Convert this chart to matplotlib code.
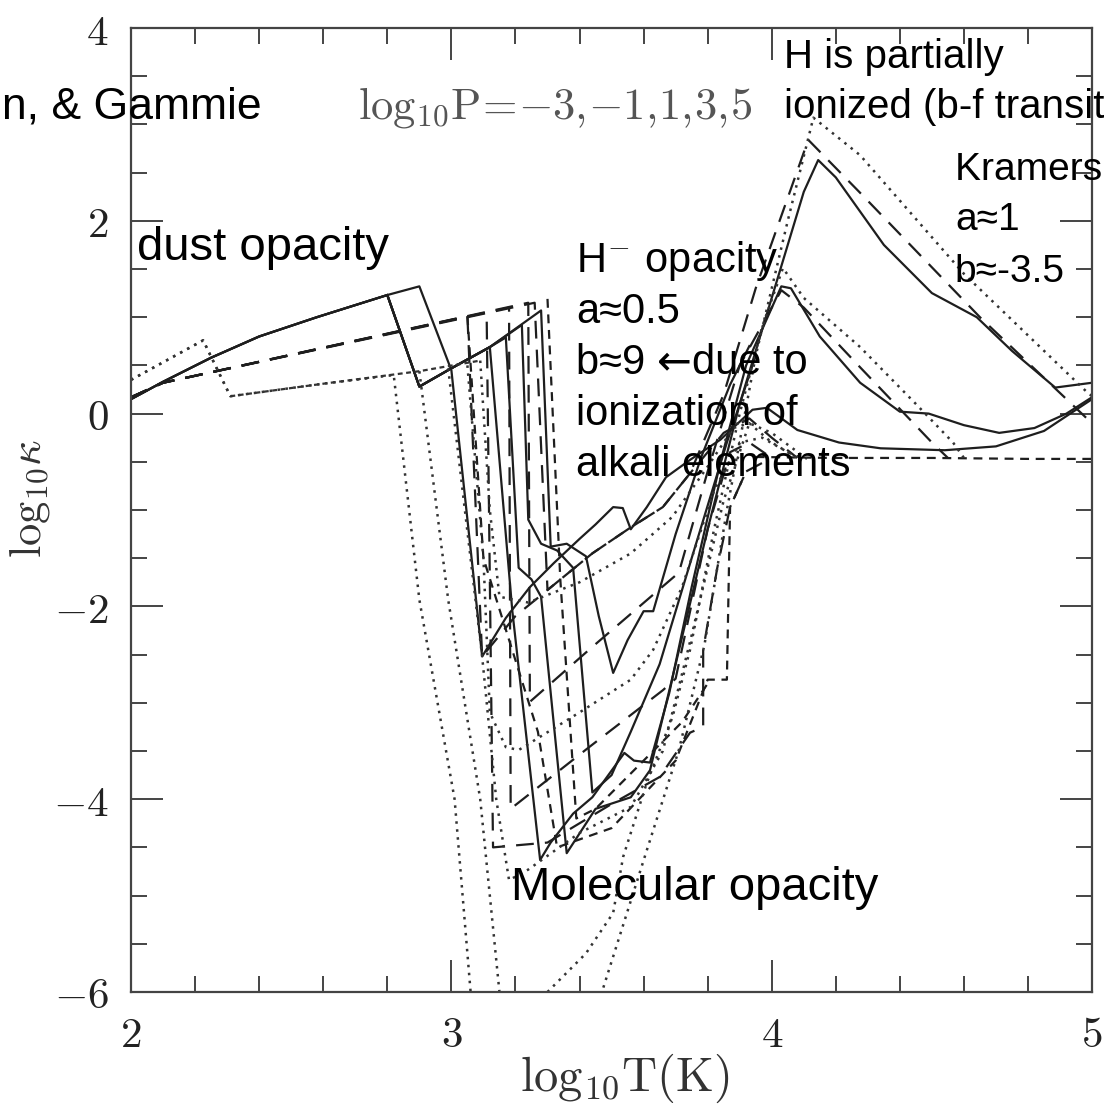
import numpy as np
import matplotlib.pyplot as plt

plt.rcParams['mathtext.fontset'] = 'cm'

# ---- solid curves (log10 T, log10 kappa) ----
s1_T = [2.00, 2.10, 2.25, 2.40, 2.58, 2.80, 2.90, 3.00, 3.096, 3.17, 3.245, 3.32, 3.40, 3.45, 3.505, 3.535,
        3.56, 3.61, 3.67, 3.745, 3.84, 3.94, 3.985, 4.08, 4.21, 4.34, 4.54, 4.70, 4.85, 5.00]
s1_k = [0.15, 0.33, 0.58, 0.80, 1.00, 1.23, 1.32, 0.45, -2.52, -2.12, -1.80, -1.55, -1.30, -1.15, -0.97, -0.98,
        -1.20, -0.97, -0.66, -0.48, -0.27, 0.04, 0.06, -0.17, -0.30, -0.36, -0.38, -0.34, -0.18, 0.15]

s2_T = [2.00, 2.10, 2.25, 2.40, 2.58, 2.80, 2.90, 3.00, 3.12, 3.19, 3.277, 3.31, 3.38, 3.44, 3.54, 3.57, 3.62,
        3.68, 3.75, 3.84, 3.92, 4.03, 4.06, 4.15, 4.276, 4.40, 4.49, 4.60, 4.71, 4.82, 4.92, 5.00]
s2_k = [0.15, 0.33, 0.58, 0.80, 1.00, 1.23, 0.28, 0.47, 0.69, -2.04, -4.63, -4.45, -4.15, -3.98, -3.52, -3.60, -3.62,
        -2.90, -1.80, -0.50, 0.50, 1.32, 1.30, 0.80, 0.32, 0.02, 0.00, -0.12, -0.20, -0.15, 0.00, 0.17]

s3_T = [2.00, 2.10, 2.25, 2.40, 2.58, 2.80, 2.90, 3.00, 3.12, 3.17, 3.21, 3.25, 3.28, 3.36, 3.45, 3.56, 3.62,
        3.70, 3.80, 3.90, 4.00, 4.10, 4.145, 4.20, 4.35, 4.50, 4.64, 4.75, 4.885, 5.00]
s3_k = [0.15, 0.33, 0.58, 0.80, 1.00, 1.23, 0.28, 0.47, 0.69, 0.79, -1.60, -1.72, -1.90, -4.56, -4.10, -3.98, -3.70,
        -2.60, -1.20, 0.10, 1.20, 2.30, 2.63, 2.45, 1.75, 1.25, 1.00, 0.65, 0.27, 0.32]

s4_T = [2.80, 2.90, 3.00, 3.12, 3.22, 3.24, 3.28, 3.33, 3.38, 3.44, 3.50, 3.56, 3.65, 3.75, 3.86, 3.95]
s4_k = [1.23, 0.28, 0.47, 0.69, 0.92, -1.10, -1.35, -1.42, -1.60, -3.93, -3.75, -3.30, -2.60, -1.50, -0.30, 0.60]

s5_T = [2.80, 2.90, 3.00, 3.12, 3.28, 3.31, 3.36, 3.42, 3.46, 3.505, 3.55, 3.60, 3.63, 3.70, 3.78, 3.87, 3.93]
s5_k = [1.23, 0.28, 0.47, 0.69, 1.07, -1.38, -1.35, -1.48, -2.10, -2.69, -2.35, -2.05, -2.05, -1.25, -0.45, 0.30, 0.70]

# ---- long-dashed curves ----
ld1_T = [2.00, 2.10, 3.05, 3.096, 3.20, 3.30, 3.44, 3.56, 3.66, 3.745, 3.85, 3.93, 4.00, 4.08]
ld1_k = [0.17, 0.32, 1.01, -2.52, -2.10, -1.83, -1.45, -1.18, -0.97, -0.62, -0.20, -0.05, -0.25, -0.46]

ld2_T = [2.00, 2.10, 3.11, 3.13, 3.30, 3.50, 3.65, 3.745, 3.786, 3.786, 3.83, 3.87, 3.92, 4.00]
ld2_k = [0.17, 0.32, 1.05, -4.50, -4.45, -4.05, -3.77, -3.31, -3.25, -2.45, -1.60, -0.97, -0.60, -0.46]

ld3_T = [2.00, 2.10, 3.18, 3.185, 3.43, 3.66, 3.70, 3.80, 3.87, 3.93, 4.00]
ld3_k = [0.17, 0.32, 1.10, -4.10, -3.46, -2.87, -2.75, -1.20, -0.40, -0.30, -0.46]

ld4_T = [2.00, 2.10, 3.24, 3.245, 3.44, 3.71, 3.80, 3.90, 4.03, 4.10, 4.276, 4.50, 4.55]
ld4_k = [0.17, 0.32, 1.15, -2.99, -2.42, -1.65, -0.60, 0.50, 1.28, 1.10, 0.48, -0.30, -0.46]

ld5_T = [2.00, 2.10, 3.26, 3.30, 3.44, 3.56, 3.66, 3.745, 3.85, 3.95, 4.114, 4.276, 4.65, 4.99, 5.00]
ld5_k = [0.17, 0.32, 1.15, -1.83, -1.45, -1.18, -0.97, -0.62, 0.20, 1.30, 2.84, 2.29, 1.00, -0.07, -0.10]

# ---- short-dashed curves ----
sd1_T = [3.95, 4.20, 4.50, 4.80, 5.00]
sd1_k = [-0.45, -0.46, -0.46, -0.47, -0.47]

sd2_T = [3.30, 3.34, 3.39, 3.45, 3.60, 3.72, 3.80]
sd2_k = [1.19, -1.72, -4.20, -4.10, -3.60, -3.20, -2.80]

sd3_T = [3.05, 3.10, 3.27, 3.33, 3.50, 3.70, 3.80, 3.86, 3.87, 3.92]
sd3_k = [1.01, -1.50, -3.30, -4.50, -4.30, -3.60, -2.76, -2.76, -0.97, -0.60]

sd4_T = [2.31, 2.60, 2.90, 3.09]
sd4_k = [0.18, 0.31, 0.44, 0.55]

# ---- dotted curves ----
d1_T = [2.00, 2.225, 2.31, 2.60, 2.82, 2.90, 3.01, 3.06, 3.16, 3.30, 3.42, 3.505, 3.536, 3.61, 3.69, 3.745,
        3.82, 3.90, 3.97, 4.035, 4.10, 4.276, 4.45, 4.566, 4.60]
d1_k = [0.35, 0.76, 0.18, 0.31, 0.40, -1.93, -4.00, -6.00, -6.80, -6.00, -5.60, -5.18, -4.60, -3.83, -3.15, -2.45,
        -1.20, 0.00, 0.90, 1.51, 1.20, 0.69, 0.10, -0.30, -0.46]

d2_T = [2.90, 2.99, 3.09, 3.15, 3.30, 3.47, 3.61, 3.71, 3.79, 3.86, 3.95, 4.05, 4.13, 4.276, 4.60, 4.985, 5.00]
d2_k = [0.44, -1.93, -4.00, -6.00, -6.80, -6.00, -4.53, -3.49, -2.40, -1.00, 0.60, 2.00, 3.07, 2.68, 1.45, 0.22, 0.18]

d3_T = [2.99, 3.096, 3.14, 3.18, 3.24, 3.40, 3.56, 3.66, 3.75, 3.85, 3.93, 4.00, 4.11]
d3_k = [0.47, -2.52, -4.00, -4.84, -4.73, -4.35, -4.08, -3.50, -2.30, -0.90, -0.10, -0.20, -0.47]

d4_T = [3.05, 3.10, 3.12, 3.17, 3.21, 3.40, 3.56, 3.63, 3.72, 3.82, 3.90, 3.97, 4.05, 4.10]
d4_k = [0.50, -1.50, -3.10, -3.46, -3.49, -3.10, -2.76, -2.45, -1.80, -0.80, -0.30, -0.25, -0.40, -0.47]

d5_T = [3.09, 3.12, 3.15, 3.24, 3.40, 3.56, 3.69, 3.80, 3.88, 3.93, 4.00, 4.08]
d5_k = [0.55, -1.00, -1.90, -1.96, -1.75, -1.45, -1.07, -0.55, -0.15, -0.10, -0.30, -0.46]

d0_T = [2.00, 2.225, 2.31]
d0_k = [0.35, 0.76, 0.18]

x_ticks = [2, 3, 4, 5]
y_ticks = [-6, -4, -2, 0, 2, 4]

fig = plt.figure(figsize=(11.04, 11.07), dpi=100)
ax = fig.add_axes([0.1187, 0.1039, 0.8705, 0.8708])

ink = '#1e1e1e'
solid = dict(color=ink, lw=1.6, ls='-')
longd = dict(color=ink, lw=1.6, ls=(0, (8, 5)))
shortd = dict(color=ink, lw=1.6, ls=(0, (4, 3)))
fined = dict(color='#333333', lw=1.6, ls=(0, (2.2, 1.6)))
dots = dict(color='#333333', lw=1.8, ls=(0, (1, 2.2)))

for T, k in [(s1_T, s1_k), (s2_T, s2_k), (s3_T, s3_k), (s4_T, s4_k), (s5_T, s5_k)]:
    ax.plot(T, k, **solid)
for T, k in [(ld1_T, ld1_k), (ld2_T, ld2_k), (ld3_T, ld3_k), (ld4_T, ld4_k), (ld5_T, ld5_k)]:
    ax.plot(T, k, **longd)
for T, k in [(sd1_T, sd1_k), (sd2_T, sd2_k), (sd3_T, sd3_k)]:
    ax.plot(T, k, **shortd)
ax.plot(sd4_T, sd4_k, **fined)
for T, k in [(d0_T, d0_k), (d1_T, d1_k), (d2_T, d2_k), (d3_T, d3_k), (d4_T, d4_k), (d5_T, d5_k)]:
    ax.plot(T, k, **dots)

ax.set_xlim(2, 5)
ax.set_ylim(-6, 4)
ax.set_xticks(x_ticks)
ax.set_yticks(y_ticks)
ax.set_xticks(np.arange(2, 5.01, 0.2), minor=True)
ax.set_yticks(np.arange(-6, 4.01, 0.5), minor=True)
ax.set_xticklabels(['$%d$' % v for v in x_ticks])
ax.set_yticklabels(['$%d$' % v for v in y_ticks])
ax.tick_params(which='both', direction='in', top=True, right=True, color='#444444')
ax.tick_params(which='major', length=23, width=1.4, labelsize=31, pad=16, labelcolor='#222222')
ax.tick_params(which='minor', length=11.5, width=1.4)
for sp in ax.spines.values():
    sp.set_linewidth(1.6)
    sp.set_color('#444444')

fig.text(0.566, 0.015, r'$\mathrm{log}_{10}\mathrm{T(K)}$', fontsize=35, ha='center', va='baseline', color='#333333')
fig.text(0.027, 0.55, r'$\mathrm{log}_{10}\kappa$', fontsize=32, ha='center', va='center', rotation=90,
         color='#333333')

sans = ['Liberation Sans', 'DejaVu Sans']
fig.text(0.237, 0.893, 'Zhu, Hartmann, & Gammie', fontsize=32, family=sans, ha='right', va='baseline')
fig.text(0.124, 0.765, 'dust opacity', fontsize=34, family=sans, va='baseline')
fig.text(0.324, 0.893, r'$\mathrm{log}_{10}\mathrm{P}\!=\!{-}3,\!{-}1,\!1,\!3,\!5$',
         fontsize=32, color='#555555', va='baseline')
fig.text(0.710, 0.939, 'H is partially', fontsize=29, family=sans, va='baseline')
fig.text(0.710, 0.893, 'ionized (b-f transition)', fontsize=29, family=sans, va='baseline')
fig.text(0.865, 0.837, "Kramers' opacity", fontsize=28, family=sans, va='baseline')
fig.text(0.865, 0.792, 'a\u22481', fontsize=28, family=sans, va='baseline')
fig.text(0.865, 0.745, 'b\u2248-3.5', fontsize=28, family=sans, va='baseline')

hlines = [r'H$^{\mathsf{-}}$ opacity', 'a\u22480.5', None, 'ionization of', 'alkali elements']
for i, line in enumerate(hlines):
    if line:
        fig.text(0.522, 0.754 - i * 0.046, line, fontsize=30, family=sans, va='baseline')

# third line: the arrow comes from DejaVu Sans, so the pieces are laid end to end
renderer = fig.canvas.get_renderer()
x0 = 0.522
for piece, fam in [('b\u22489 ', sans), ('\u2190', ['DejaVu Sans']), ('due to', sans)]:
    t = fig.text(x0, 0.754 - 2 * 0.046, piece, fontsize=30, family=fam, va='baseline')
    bb = t.get_window_extent(renderer)
    x0 = bb.x1 / fig.bbox.width

fig.text(0.463, 0.187, 'Molecular opacity', fontsize=34, family=sans, va='baseline')

fig.savefig('out.png', dpi=100)
